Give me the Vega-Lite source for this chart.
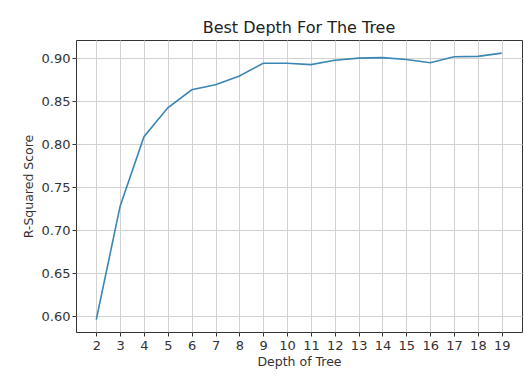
{
  "$schema": "https://vega.github.io/schema/vega-lite/v6.json",
  "width": 446,
  "height": 292,
  "autosize": {"type": "none"},
  "padding": {"left": 76, "top": 40, "right": 2, "bottom": 47},
  "background": "white",
  "title": {"text": "Best Depth For The Tree", "fontSize": 16, "font": "DejaVu Sans", "fontWeight": "normal", "color": "#222", "offset": 4},
  "config": {
    "view": {"stroke": "#333", "strokeWidth": 1},
    "axis": {"labelFont": "DejaVu Sans", "titleFont": "DejaVu Sans", "labelFontSize": 13, "titleFontSize": 12.5, "titleFontWeight": "normal", "labelColor": "#333", "titleColor": "#333", "gridColor": "#d2d2d2", "gridWidth": 1, "tickColor": "#333", "tickSize": 4, "domain": false}
  },
  "data": {"values": [
    {"depth": 2, "r2": 0.596},
    {"depth": 3, "r2": 0.728},
    {"depth": 4, "r2": 0.809},
    {"depth": 5, "r2": 0.8425},
    {"depth": 6, "r2": 0.8635},
    {"depth": 7, "r2": 0.8695},
    {"depth": 8, "r2": 0.8795},
    {"depth": 9, "r2": 0.8945},
    {"depth": 10, "r2": 0.8945},
    {"depth": 11, "r2": 0.8928},
    {"depth": 12, "r2": 0.898},
    {"depth": 13, "r2": 0.9004},
    {"depth": 14, "r2": 0.901},
    {"depth": 15, "r2": 0.8988},
    {"depth": 16, "r2": 0.895},
    {"depth": 17, "r2": 0.902},
    {"depth": 18, "r2": 0.9024},
    {"depth": 19, "r2": 0.9062}
  ]},
  "mark": {"type": "line", "color": "#3a86b4", "strokeWidth": 1.6},
  "encoding": {
    "x": {"field": "depth", "type": "quantitative", "scale": {"domain": [1.15, 19.85], "nice": false, "zero": false},
          "axis": {"values": [2,3,4,5,6,7,8,9,10,11,12,13,14,15,16,17,18,19], "title": "Depth of Tree", "labelPadding": 3, "titlePadding": 3}},
    "y": {"field": "r2", "type": "quantitative", "scale": {"domain": [0.5815, 0.9215], "nice": false, "zero": false},
          "axis": {"values": [0.6, 0.65, 0.7, 0.75, 0.8, 0.85, 0.9], "format": ".2f", "title": "R-Squared Score", "titlePadding": 6}}
  }
}
